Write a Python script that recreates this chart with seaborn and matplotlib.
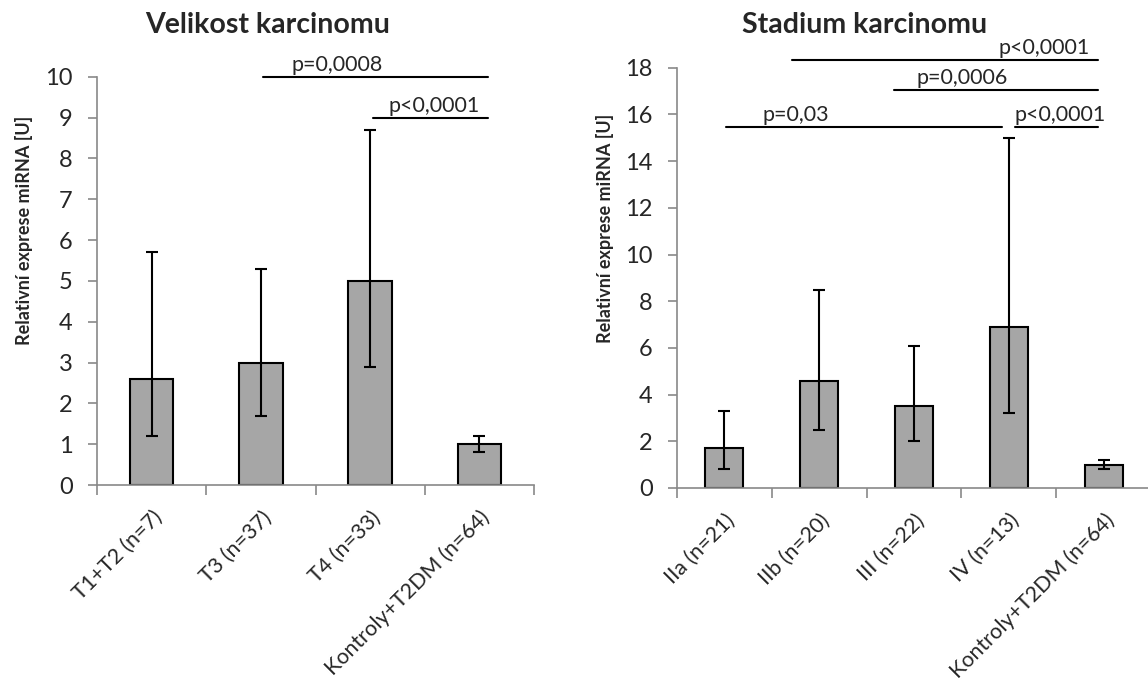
import matplotlib
matplotlib.use("Agg")
import matplotlib.pyplot as plt
import matplotlib.transforms as mtransforms
import seaborn as sns
import pandas as pd

# --- DATA ---
velikost_kategorie = ["T1+T2 (n=7)", "T3 (n=37)", "T4 (n=33)", "Kontroly+T2DM (n=64)"]
velikost_prumer = [2.6, 3.0, 5.0, 1.0]
velikost_dolni = [1.2, 1.7, 2.9, 0.8]
velikost_horni = [5.7, 5.3, 8.7, 1.2]

stadium_kategorie = ["IIa (n=21)", "IIb (n=20)", "III (n=22)", "IV (n=13)", "Kontroly+T2DM (n=64)"]
stadium_prumer = [1.7, 4.6, 3.5, 6.9, 1.0]
stadium_dolni = [0.8, 2.5, 2.0, 3.2, 0.8]
stadium_horni = [3.3, 8.5, 6.1, 15.0, 1.2]

# p-hodnoty: (od, do, vyska, text, x textu, zarovnani)
velikost_p = [
    (1.02, 3.08, 10.0, "p=0,0008", 1.70, "center"),
    (2.03, 3.08, 9.0, "p<0,0001", 3.00, "right"),
]
stadium_p = [
    (0.71, 3.94, 18.35, "p<0,0001", 3.85, "right"),
    (1.79, 3.94, 17.04, "p=0,0006", 2.51, "center"),
    (0.02, 2.93, 15.47, "p=0,03", 0.75, "center"),
    (3.07, 3.94, 15.47, "p<0,0001", 3.54, "center"),
]

sns.set_style("ticks")
plt.rcParams['font.family'] = ['Lato', 'DejaVu Sans']

SEDA = "#898989"

fig = plt.figure(figsize=(11.48, 6.99), dpi=100)
ax1 = fig.add_axes([97 / 1148, 214 / 699, 437 / 1148, 408.3 / 699])
ax2 = fig.add_axes([677 / 1148, 211 / 699, 474 / 1148, 420.3 / 699])


def kresli(ax, kategorie, prumer, dolni, horni, ymax, krok, p_hodnoty):
    df = pd.DataFrame({"skupina": kategorie, "hodnota": prumer})
    sns.barplot(data=df, x="skupina", y="hodnota", ax=ax, color="#A6A6A6",
                saturation=1, edgecolor="black", linewidth=1.5, width=0.4,
                errorbar=None)
    n = len(kategorie)
    x = list(range(n))
    yerr = [[p - d for p, d in zip(prumer, dolni)],
            [h - p for p, h in zip(prumer, horni)]]
    ax.errorbar(x, prumer, yerr=yerr, fmt="none", ecolor="black",
                elinewidth=1.5, capsize=4.5, capthick=1.5, zorder=5)

    # osy
    ax.set_xlim(-0.5, n - 0.5)
    ax.set_ylim(0, ymax)
    ax.set_yticks(range(0, ymax + 1, krok))
    ax.set_xticks(x)
    ax.set_xticks([i - 0.5 for i in range(n + 1)], minor=True)
    ax.set_xticklabels(kategorie, rotation=45, ha="right", va="top",
                       rotation_mode="anchor")
    posun = mtransforms.ScaledTranslation(0.045, 0, fig.dpi_scale_trans)
    for lab in ax.get_xticklabels():
        lab.set_transform(lab.get_transform() + posun)
    ax.tick_params(axis="x", which="major", length=0, pad=16, labelsize=15.5)
    ax.tick_params(axis="x", which="minor", length=7, width=1.2, color=SEDA)
    ax.tick_params(axis="y", length=6.5, width=1.2, color=SEDA, pad=11, labelsize=17)
    ax.set_xlabel("")
    ax.set_ylabel("")
    sns.despine(ax=ax)
    for s in ["left", "bottom"]:
        ax.spines[s].set_color(SEDA)
        ax.spines[s].set_linewidth(1.2)

    # vyznamnost
    for x0, x1, y, text, xt, ha in p_hodnoty:
        ax.plot([x0, x1], [y, y], color="black", lw=1.5, clip_on=False)
        ax.text(xt, y + ymax * 0.004, text, ha=ha, va="bottom", fontsize=15.5)


kresli(ax1, velikost_kategorie, velikost_prumer, velikost_dolni, velikost_horni,
       10, 1, velikost_p)
kresli(ax2, stadium_kategorie, stadium_prumer, stadium_dolni, stadium_horni,
       18, 2, stadium_p)

# titulky a popisky os
fig.text(268 / 1148, 1 - 25 / 699, "Velikost karcinomu", ha="center", va="center",
         fontsize=20.5, fontweight="bold")
fig.text(865 / 1148, 1 - 25 / 699, "Stadium karcinomu", ha="center", va="center",
         fontsize=20.5, fontweight="bold")
fig.text(24 / 1148, 1 - 230 / 699, "Relativní exprese miRNA [U]", rotation=90,
         ha="center", va="center", fontsize=13, fontweight="bold")
fig.text(605 / 1148, 1 - 228 / 699, "Relativní exprese miRNA [U]", rotation=90,
         ha="center", va="center", fontsize=13, fontweight="bold")

fig.savefig("out.png", dpi=100)
